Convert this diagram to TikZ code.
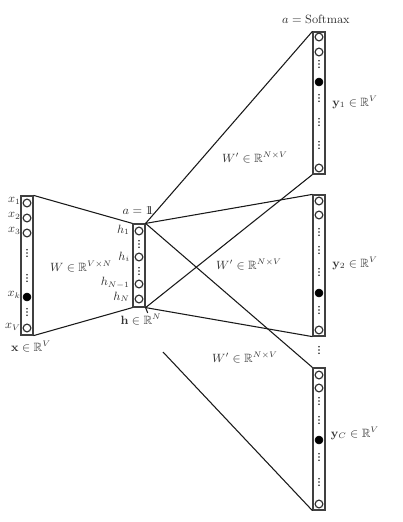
\documentclass[tikz,border=0pt]{standalone}
\usepackage{amsmath,amssymb}
\usetikzlibrary{calc}
\newcommand{\onevec}{\mathrm{1\mkern-6.5mu1}}
\tikzset{
  layer/.style={draw=black!75, line width=0.9pt, minimum width=9pt, inner sep=0pt, rectangle},
  neuron/.style={draw=black!80, line width=0.9pt, circle, minimum size=5.8pt, inner sep=0pt, fill=white},
  fneuron/.style={draw=black, circle, minimum size=6pt, inner sep=0pt, fill=black},
  conn/.style={draw=black!90, line width=0.8pt},
  lbl/.style={text=black!80, font=\small, inner sep=0pt},
  vd/.pic={\fill[black!85] (0,-3.3) circle (0.7pt) (0,0) circle (0.7pt) (0,3.3) circle (0.7pt);}
}
\begin{document}
\begin{tikzpicture}[x=0.75pt,y=-0.75pt]
\useasboundingbox (0,0) rectangle (403,522);
% layers
\node[layer, minimum height=104.25pt] (inp) at (27,265.5) {};
\node[layer, minimum height=62.25pt] (hid) at (139,265.5) {};
\node[layer, minimum height=106.5pt] (out1) at (319,103) {};
\node[layer, minimum height=105.75pt] (out2) at (319,265.5) {};
\node[layer, minimum height=106.5pt] (outC) at (319,439) {};
\coordinate (cut) at (163,352);
% connectors
\draw[conn] (inp.north east) -- (hid.north west);
\draw[conn] (inp.south east) -- (hid.south west);
\draw[conn] (hid.north east) -- (out1.north west);
\draw[conn] (hid.south east) -- (out1.south west);
\draw[conn] (hid.north east) -- (out2.north west);
\draw[conn] (hid.south east) -- (out2.south west);
\draw[conn] (hid.north east) -- (outC.north west);
\draw[conn] (outC.south west) -- (cut);
\draw[conn] (hid.south east) -- ($(hid.south east)!0.12!(cut)$);
% input neurons
\node[neuron] (x1) at (27,203) {};
\node[neuron] (x2) at (27,218) {};
\node[neuron] (x3) at (27,233) {};
\pic at (27,253) {vd};
\pic at (27,278) {vd};
\node[fneuron] (xk) at (27,297) {};
\pic at (27,312) {vd};
\node[neuron] (xV) at (27,328) {};
\node[lbl, anchor=east] (lx1) at (21,201) {$x_1$};
\node[lbl, anchor=east] (lx2) at (21,216) {$x_2$};
\node[lbl, anchor=east] (lx3) at (21,231) {$x_3$};
\node[lbl, anchor=east] (lxk) at (21,295) {$x_k$};
\node[lbl, anchor=east] (lxV) at (21,327) {$x_V$};
\node[lbl] (lx) at (31,347) {$\mathbf{x}\in\mathbb{R}^V$};
\node[lbl] (lW) at (81,267) {$W\in\mathbb{R}^{V\times N}$};
% hidden neurons
\node[neuron] (h1) at (139,231) {};
\pic at (139,244) {vd};
\node[neuron] (hi) at (139,257) {};
\pic at (139,271) {vd};
\node[neuron] (hN1) at (139,284) {};
\node[neuron] (hN) at (139,299) {};
\node[lbl, anchor=east] (lh1) at (130,230) {$h_1$};
\node[lbl, anchor=east] (lhi) at (130,257) {$h_i$};
\node[lbl, anchor=east] (lhN1) at (130,283) {$h_{N-1}$};
\node[lbl, anchor=east] (lhN) at (130,297) {$h_N$};
\node[lbl] (lh) at (141,320) {$\mathbf{h}\in\mathbb{R}^N$};
\node[lbl] (la) at (138,211) {$a=\onevec$};
% output 1
\node[neuron] (y11) at (319,37) {};
\node[neuron] (y12) at (319,52) {};
\pic at (319,64) {vd};
\node[fneuron] (y1k) at (319,82) {};
\pic at (319,98) {vd};
\pic at (319,122) {vd};
\pic at (319,145) {vd};
\node[neuron] (y1V) at (319,168) {};
\node[lbl] (ly1) at (355,102) {$\mathbf{y}_1\in\mathbb{R}^V$};
\node[lbl] (lsm) at (316,19) {$a=\mathrm{Softmax}$};
\node[lbl] (lW1) at (255,158) {$W'\in\mathbb{R}^{N\times V}$};
% output 2
\node[neuron] (y21) at (319,201) {};
\node[neuron] (y22) at (319,215) {};
\pic at (319,232) {vd};
\pic at (319,250) {vd};
\pic at (319,272) {vd};
\node[fneuron] (y2k) at (319,293) {};
\pic at (319,310) {vd};
\node[neuron] (y2V) at (319,330) {};
\node[lbl] (ly2) at (355,263) {$\mathbf{y}_2\in\mathbb{R}^V$};
\node[lbl] (lW2) at (249,265) {$W'\in\mathbb{R}^{N\times V}$};
\pic at (319,350) {vd};
% output C
\node[neuron] (yC1) at (319,375) {};
\node[neuron] (yC2) at (319,388) {};
\pic at (319,401) {vd};
\pic at (319,420) {vd};
\node[fneuron] (yCk) at (319,440) {};
\pic at (319,457) {vd};
\pic at (319,482) {vd};
\node[neuron] (yCV) at (319,504) {};
\node[lbl] (lyC) at (355,433) {$\mathbf{y}_C\in\mathbb{R}^V$};
\node[lbl] (lW3) at (245,358) {$W'\in\mathbb{R}^{N\times V}$};
\end{tikzpicture}
\end{document}
